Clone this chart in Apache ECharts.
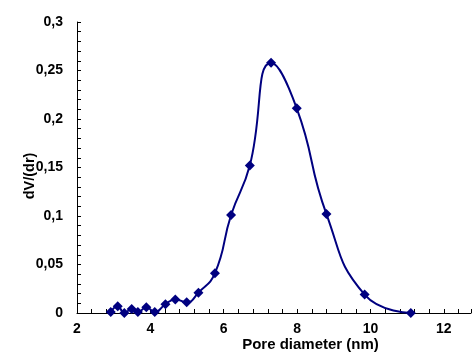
<!DOCTYPE html>
<html>
<head>
<meta charset="utf-8">
<script src="https://cdn.jsdelivr.net/npm/echarts@6/dist/echarts.min.js"></script>
<style>html,body{margin:0;padding:0;background:#fff;}#c{width:474px;height:354px;}</style>
</head>
<body>
<div id="c"></div>
<script>
const poreDiameter = [2.92, 3.11, 3.29, 3.49, 3.66, 3.89, 4.12, 4.41, 4.68, 4.99, 5.31, 5.76, 6.2, 6.71, 7.29, 7.99, 8.8, 9.84, 11.1];
const dVdr = [0.001, 0.007, 0.0, 0.004, 0.001, 0.006, 0.001, 0.009, 0.014, 0.011, 0.021, 0.041, 0.101, 0.152, 0.258, 0.211, 0.102, 0.019, 0.0];
const xTicks = [2, 4, 6, 8, 10, 12];
const yTicks = [0, 0.05, 0.1, 0.15, 0.2, 0.25, 0.3];
const xTitle = 'Pore diameter (nm)';
const yTitle = 'dV/(dr)';

const chart = echarts.init(document.getElementById('c'), null, {renderer: 'canvas'});
const font = 'Liberation Sans, Arial, sans-serif';
chart.setOption({
  animation: false,
  grid: {left: 77, right: 0, top: 22, bottom: 41, containLabel: false},
  xAxis: {
    type: 'value', min: 2, max: 12.74, interval: 2,
    axisLine: {show: true, lineStyle: {color: '#000', width: 1}},
    axisTick: {show: true, inside: true, length: 4, lineStyle: {color: '#000'}},
    minorTick: {show: true, splitNumber: 5, length: 4, lineStyle: {color: '#000'}},
    splitLine: {show: false},
    axisLabel: {
      color: '#000', fontFamily: font, fontWeight: 'bold', fontSize: 14, margin: 9,
      formatter: v => xTicks.indexOf(Math.round(v * 100) / 100) >= 0 ? String(v) : ''
    }
  },
  yAxis: {
    type: 'value', min: 0, max: 0.3, interval: 0.05,
    axisLine: {show: true, lineStyle: {color: '#000', width: 1}},
    axisTick: {show: true, inside: true, length: 4, lineStyle: {color: '#000'}},
    minorTick: {show: true, splitNumber: 5, length: 4, lineStyle: {color: '#000'}},
    splitLine: {show: false},
    axisLabel: {
      color: '#000', fontFamily: font, fontWeight: 'bold', fontSize: 14, margin: 14,
      formatter: v => {
        const t = yTicks.find(y => Math.abs(y - v) < 1e-9);
        return t === undefined ? '' : String(t).replace('.', ',');
      }
    }
  },
  graphic: [{
    type: 'text', x: 310.5, y: 345,
    style: {text: xTitle, fill: '#000', font: 'bold 15px ' + font, textAlign: 'center', textVerticalAlign: 'middle'}
  }, {
    type: 'text', x: 30, y: 176, rotation: Math.PI / 2,
    style: {text: yTitle, fill: '#000', font: 'bold 14.5px ' + font, textAlign: 'center', textVerticalAlign: 'middle'}
  }],
  series: [{
    type: 'line',
    data: poreDiameter.map((x, i) => [x, dVdr[i]]),
    smooth: 0.5,
    symbol: 'diamond', symbolSize: 10,
    lineStyle: {color: '#000080', width: 2},
    itemStyle: {color: '#000080'}
  }]
});
</script>
</body>
</html>
